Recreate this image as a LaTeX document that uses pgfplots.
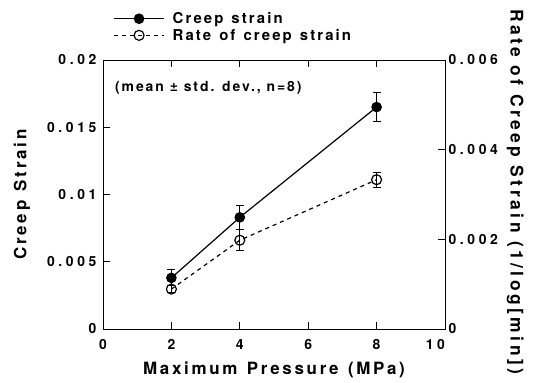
\documentclass[border=0pt]{standalone}
\usepackage{fontspec}
\setmainfont{TeX Gyre Heros}
\newfontfamily\tickfont{TeX Gyre Heros}[LetterSpace=26]
\newfontfamily\legfont{TeX Gyre Heros}[LetterSpace=14]
\newfontfamily\labfont{TeX Gyre Heros}[LetterSpace=16]
\newfontfamily\rlabfont{TeX Gyre Heros}[LetterSpace=20]
\newcommand\wsp{\hspace{0.12em}}
\usepackage{pgfplots}
\usepackage{pgfplotstable}
\pgfplotsset{compat=1.18}

\pgfplotstableread{
x y e
2 0.0038 0.0006
4 0.0083 0.0009
8 0.0165 0.00105
}\creep
\pgfplotstableread{
x y e
2 0.00089 0.00007
4 0.00198 0.00024
8 0.00333 0.00017
}\rate

\pgfplotsset{
  common/.style={
    scale only axis, width=342bp, height=269bp,
    at={(0,0)}, anchor=south west,
    xmin=0, xmax=10,
    tick align=inside,
    major tick length=7bp,
    tick style={black, line width=0.8bp},
    axis line style={line width=0.9bp},
    ticklabel style={font=\tickfont\bfseries\fontsize{14}{16}\selectfont},
    label style={font=\labfont\bfseries\fontsize{17}{19}\selectfont},
  },
  ebar/.style={error bars/.cd, y dir=both, y explicit,
    error bar style={line width=1bp, solid},
    error mark options={rotate=90, line width=1bp, mark size=4bp, solid}},
}

\begin{document}
\begin{tikzpicture}
\begin{axis}[common,
  ymin=0, ymax=0.02,
  xtick={0,2,4,6,8,10}, xticklabels={0,2,4,6,8,\makebox[0pt][r]{10}},
  ytick={0,0.005,0.01,0.015,0.02}, yticklabels={0,0.005,0.01,0.015,0.02},
  scaled y ticks=false,
  xtick pos=both, ytick pos=left,
  xticklabel style={yshift=-7bp},
  yticklabel style={xshift=-3bp},
  xlabel={Maximum\wsp{} Pressure\wsp{} (MPa)},
  ylabel={Creep\wsp{} Strain},
  xlabel style={at={(axis description cs:0.5,-0.152)}, anchor=center},
  ylabel style={at={(axis description cs:-0.237,0.5)}, anchor=center},
]
\addplot[black, line width=1.2bp, mark=*, mark size=4.7bp, ebar]
  table[x=x, y=y, y error=e]{\creep};
\node[anchor=west, font=\legfont\bfseries\fontsize{14}{16}\selectfont] at (axis description cs:0.025,0.896) {(mean ± std. dev., n=8)};
\end{axis}
\begin{axis}[common,
  ymin=0, ymax=0.006,
  axis x line=none, axis y line*=right,
  ytick={0,0.002,0.004,0.006}, yticklabels={0,0.002,0.004,0.006},
  scaled y ticks=false,
  ylabel={Rate of Creep Strain (1/log[min])},
  ylabel style={at={(axis description cs:1.205,0.51)}, anchor=center, rotate=180,
    font=\rlabfont\bfseries\fontsize{17.5}{19}\selectfont},
  legend style={at={(axis description cs:0.03,1.06)}, anchor=south west,
    draw=none, fill=none, font=\legfont\bfseries\fontsize{15}{17}\selectfont,
    inner sep=0pt, row sep=0bp, nodes={inner sep=2bp}},
  legend cell align=left,
  legend image code/.code={\draw[mark repeat=2, mark phase=2] plot coordinates {(0bp,0bp) (25bp,0bp) (50bp,0bp)}; \path (56bp,0bp);},
]
\addlegendimage{black, line width=1.2bp, mark=*, mark size=4.7bp}
\addlegendentry{Creep\wsp{} strain}
\addplot[black, line width=1.2bp, dash pattern=on 4bp off 4bp, mark=o, mark size=5bp, mark options={solid, line width=1.2bp}, ebar]
  table[x=x, y=y, y error=e]{\rate};
\addlegendentry{Rate\wsp{} of\wsp{} creep\wsp{} strain}
\end{axis}
\pgfresetboundingbox
\path[use as bounding box] (-103bp,-54bp) rectangle (431bp,329bp);
\end{tikzpicture}
\end{document}
